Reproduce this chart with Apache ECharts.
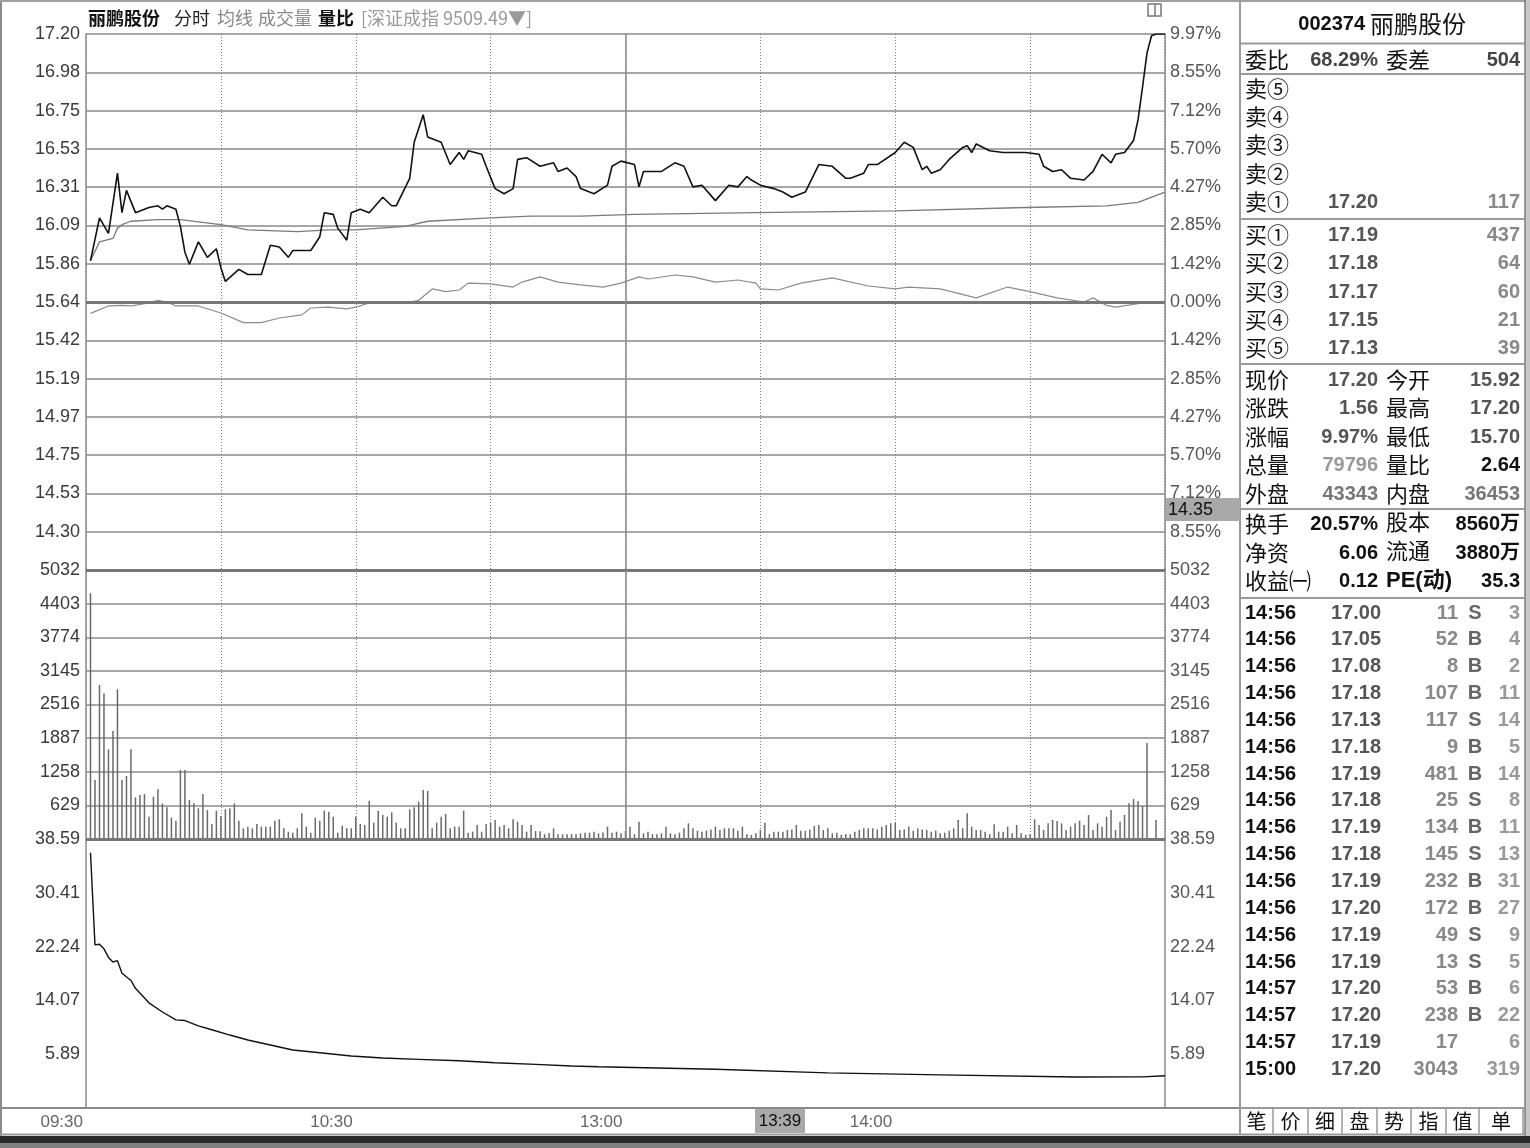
<!DOCTYPE html>
<html><head><meta charset="utf-8">
<script src="https://cdn.jsdelivr.net/npm/echarts@6/dist/echarts.min.js"></script>
<style>html,body{margin:0;padding:0;background:#fff}#c{width:1530px;height:1148px}</style>
</head><body><div id="c"></div>
<script>
// ---------------- DATA ----------------
const prevClose = 15.64;
const priceTickLabels = ['', '14.30', '14.53', '14.75', '14.97', '15.19', '15.42', '15.64', '15.86', '16.09', '16.31', '16.53', '16.75', '16.98', '17.20'];
const pctTickLabels = ['', '8.55%', '7.12%', '5.70%', '4.27%', '2.85%', '1.42%', '0.00%', '1.42%', '2.85%', '4.27%', '5.70%', '7.12%', '8.55%', '9.97%'];
const volTickLabels = ['', '629', '1258', '1887', '2516', '3145', '3774', '4403', '5032'];
const ratioTickLabels = ['', '5.89', '14.07', '22.24', '30.41', '38.59'];
const timeTickLabels = ['09:30', '10:30', '13:00', '14:00', ''];

// [minute from 09:30, price]
const pricePoints = [[1,15.88],[3,16.13],[5,16.04],[7,16.39],[8,16.16],[9,16.29],[11,16.16],[14,16.19],[16,16.20],[17,16.18],[18,16.20],[20,16.18],[21,16.08],[22,15.93],[23,15.86],[25,15.99],[27,15.90],[29,15.95],[30,15.84],[31,15.76],[34,15.83],[36,15.80],[39,15.80],[41,15.97],[43,15.96],[45,15.90],[46,15.94],[50,15.94],[52,16.02],[53,16.16],[55,16.15],[56,16.07],[58,16.00],[59,16.16],[61,16.18],[63,16.16],[66,16.25],[68,16.20],[69,16.20],[72,16.36],[73,16.57],[75,16.73],[76,16.60],[77,16.59],[79,16.57],[81,16.44],[83,16.51],[84,16.47],[85,16.52],[88,16.50],[89,16.43],[91,16.30],[93,16.27],[95,16.30],[96,16.47],[98,16.48],[101,16.43],[104,16.45],[105,16.40],[107,16.42],[109,16.37],[110,16.30],[113,16.27],[116,16.32],[117,16.43],[119,16.46],[122,16.44],[123,16.31],[124,16.40],[128,16.40],[131,16.45],[133,16.43],[135,16.31],[137,16.32],[140,16.23],[143,16.32],[145,16.31],[147,16.37],[148,16.35],[150,16.32],[153,16.30],[155,16.28],[157,16.25],[160,16.28],[163,16.44],[166,16.43],[169,16.36],[170,16.36],[173,16.39],[174,16.44],[176,16.44],[180,16.51],[182,16.57],[184,16.54],[186,16.41],[187,16.43],[188,16.39],[190,16.41],[192,16.47],[195,16.54],[196,16.55],[197,16.51],[198,16.56],[201,16.52],[204,16.51],[209,16.51],[212,16.50],[213,16.43],[215,16.40],[217,16.41],[219,16.36],[222,16.35],[224,16.40],[226,16.50],[228,16.45],[229,16.50],[231,16.51],[233,16.58],[234,16.70],[235,16.89],[236,17.09],[237,17.19],[238,17.20],[240,17.20]];

const avgPoints = [[1,15.88],[3,15.99],[6,16.01],[7,16.07],[8,16.09],[10,16.11],[16,16.12],[21,16.12],[30,16.09],[36,16.06],[47,16.05],[54,16.06],[60,16.06],[71,16.08],[76,16.11],[90,16.13],[99,16.14],[110,16.14],[122,16.15],[149,16.16],[180,16.17],[209,16.19],[227,16.20],[234,16.22],[240,16.28]];

// 深证成指 overlay, expressed on the price scale
const indexPoints = [[1,15.574],[5,15.617],[8,15.62],[10,15.617],[14,15.634],[16,15.65],[18,15.64],[20,15.617],[25,15.617],[30,15.576],[35,15.52],[39,15.52],[43,15.547],[48,15.565],[50,15.605],[54,15.61],[58,15.60],[60,15.61],[63,15.634],[67,15.634],[71,15.634],[74,15.65],[77,15.716],[80,15.70],[83,15.71],[85,15.75],[90,15.745],[95,15.727],[97,15.756],[101,15.786],[105,15.756],[110,15.74],[115,15.727],[119,15.75],[123,15.786],[125,15.774],[131,15.797],[135,15.786],[140,15.756],[145,15.768],[149,15.75],[150,15.716],[154,15.71],[159,15.75],[166,15.78],[174,15.733],[180,15.716],[183,15.727],[190,15.716],[198,15.664],[205,15.727],[210,15.70],[216,15.664],[222,15.64],[224,15.664],[227,15.62],[229,15.61],[235,15.634],[240,15.634]];

// volume per minute, index = minutes from 09:30
const volume = [0,
4597,1104,2881,2726,1678,2021,2800,1104,1179,1678,
780,823,842,418,792,929,667,592,399,343,
1291,1291,730,667,574,842,543,281,530,430,
555,574,667,343,200,231,200,281,231,231,
231,343,368,200,137,118,200,480,231,118,
399,343,530,511,418,118,249,200,200,418,
281,262,717,305,530,449,418,499,305,200,
200,555,592,698,917,898,200,305,418,468,
200,231,231,530,118,137,262,137,280,305,
355,231,262,200,368,324,262,137,262,150,
145,90,112,200,90,90,90,90,90,106,
118,118,137,106,120,231,118,137,106,150,
231,90,324,106,137,90,90,106,231,106,
90,118,200,293,200,156,137,156,180,231,
168,200,200,200,156,231,90,75,106,168,
305,90,137,137,137,168,180,262,156,156,
180,243,262,168,200,106,118,75,90,90,
137,168,200,200,200,180,231,262,293,305,
168,180,231,156,200,180,168,137,156,106,
118,156,200,355,200,480,231,168,168,137,
90,275,137,137,231,106,262,106,75,90,
368,262,168,293,355,337,293,168,231,293,
343,262,449,168,293,231,418,543,168,324,
449,667,748,711,617,1796,0,355,0,0];

// 量比 line
const ratioPoints = [[1,36.5],[2,22.5],[3,22.6],[4,21.9],[5,20.6],[6,19.9],[7,20.1],[8,18.2],[10,17.1],[11,15.9],[14,13.7],[17,12.3],[20,11.1],[22,11.0],[25,10.2],[28,9.6],[32,8.8],[36,8.05],[40,7.44],[46,6.53],[52,6.12],[59,5.62],[66,5.31],[74,5.11],[83,4.90],[91,4.59],[100,4.35],[108,4.10],[114,3.99],[140,3.6],[165,3.05],[190,2.75],[220,2.43],[235,2.45],[240,2.62]];

const headerItems = ['丽鹏股份', '分时', '均线', '成交量', '量比', '[深证成指 9509.49▼]'];
const cursorTime = '13:39';
const cursorPrice = '14.35';

const stockCode = '002374', stockName = '丽鹏股份';
const orderStat = ['委比', '68.29%', '委差', '504'];
const sellLevels = ['卖⑤', '卖④', '卖③', '卖②', '卖①'];
const sellPrices = ['', '', '', '', '17.20'];
const sellVols = ['', '', '', '', '117'];
const buyLevels = ['买①', '买②', '买③', '买④', '买⑤'];
const buyPrices = ['17.19', '17.18', '17.17', '17.15', '17.13'];
const buyVols = ['437', '64', '60', '21', '39'];
const quoteRows = [['现价','17.20','今开','15.92'],['涨跌','1.56','最高','17.20'],['涨幅','9.97%','最低','15.70'],['总量','79796','量比','2.64'],['外盘','43343','内盘','36453']];
const infoRows = [['换手','20.57%','股本','8560万'],['净资','6.06','流通','3880万'],['收益㈠','0.12','PE(动)','35.3']];
const tickTimes = ['14:56','14:56','14:56','14:56','14:56','14:56','14:56','14:56','14:56','14:56','14:56','14:56','14:56','14:56','14:57','14:57','14:57','15:00'];
const tickPrices = ['17.00','17.05','17.08','17.18','17.13','17.18','17.19','17.18','17.19','17.18','17.19','17.20','17.19','17.19','17.20','17.20','17.19','17.20'];
const tickVols = ['11','52','8','107','117','9','481','25','134','145','232','172','49','13','53','238','17','3043'];
const tickSides = ['S','B','B','B','S','B','B','S','B','S','B','B','S','S','B','B','',''];
const tickCounts = ['3','4','2','11','14','5','14','8','11','13','31','27','9','5','6','22','6','319'];
const tabs = ['笔','价','细','盘','势','指','值','单'];

// ---------------- CHART ----------------
const PMIN = prevClose - 1.56, PMAX = prevClose + 1.56, PSTEP = (PMAX - PMIN) / 14;
const VMAX = 5032, VSTEP = 629;
const RMAX = 38.59, RSTEP = 8.175, RMIN = RMAX - 5 * RSTEP;
const NUM = 'Liberation Sans, Arial, sans-serif';
const CJK = 'Noto Sans CJK SC, sans-serif';

function labFn(arr, min, step) {
  return function (v) { const i = Math.round((v - min) / step); return arr[i] !== undefined ? arr[i] : ''; };
}
function yax(grid, pos, min, max, step, labels, color, split) {
  return {
    type: 'value', gridIndex: grid, position: pos, min: min, max: max, interval: step,
    axisLine: { show: true, onZero: false, lineStyle: { color: '#8a8a8a', width: 1.5 } },
    axisTick: { show: false },
    axisLabel: { show: true, formatter: labFn(labels, min, step), color: color, fontSize: 18, fontFamily: NUM,
      margin: pos === 'left' ? 6 : 5, showMinLabel: true, showMaxLabel: true },
    splitLine: { show: !!split, lineStyle: { color: '#8a8a8a', width: 1.6 } }
  };
}
function xax(grid) {
  return {
    type: 'value', gridIndex: grid, min: 0, max: 240, interval: 30,
    axisLine: { show: false }, axisTick: { show: false }, axisLabel: { show: false },
    splitLine: { show: true, lineStyle: { color: '#7a7a7a', width: 1, type: [1, 2] } }
  };
}

const G = [];
function txt(x, y, text, o) {
  o = o || {};
  const al = o.align || 'left';
  G.push({ type: 'text', x: x, y: y, z: o.z || 100, silent: true,
    style: { text: text, font: (o.weight || 'normal') + ' ' + (o.size || 20) + 'px ' + (o.family || NUM),
      fill: o.color || '#111', textAlign: al, textVerticalAlign: 'middle', align: al, verticalAlign: 'middle' } });
}
function hl(x1, x2, y, c, w) { G.push({ type: 'line', z: 90, silent: true, shape: { x1: x1, y1: y, x2: x2, y2: y }, style: { stroke: c || '#9a9a9a', lineWidth: w || 2 } }); }
function vl(x, y1, y2, c, w) { G.push({ type: 'line', z: 90, silent: true, shape: { x1: x, y1: y1, x2: x, y2: y2 }, style: { stroke: c || '#9a9a9a', lineWidth: w || 2 } }); }
function rc(x, y, w, h, fill, stroke, z) { G.push({ type: 'rect', z: z || 95, silent: true, shape: { x: x, y: y, width: w, height: h }, style: { fill: fill || 'none', stroke: stroke || 'none', lineWidth: 1.5 } }); }

// frame
vl(1, 0, 1136, '#8a8a8a', 2);
hl(0, 1526, 1, '#a0a0a0', 2);
rc(1525, 0, 5, 1148, '#c8c8c8', null, 80);
vl(1525, 0, 1136, '#7a7a7a', 1.5);
rc(0, 1136, 1530, 7, '#2b2b2b', null, 80);
rc(0, 1143, 1530, 5, '#808080', null, 80);
hl(0, 1240, 1108, '#8a8a8a', 2);
hl(0, 1525, 1134.5, '#9a9a9a', 2);
vl(1240, 0, 1135, '#9a9a9a', 2);
// icon
rc(1148, 4, 13, 12, 'none', '#777');
vl(1155, 4, 16, '#777', 1.5);

// header
const hx = [88, 174, 217, 258, 318, 361];
const hc = ['#111', '#222', '#888', '#888', '#111', '#999'];
const hw = ['bold', 'normal', 'normal', 'normal', 'bold', 'normal'];
headerItems.forEach(function (s, i) { txt(hx[i], 18, s, { size: 18, family: CJK, color: hc[i], weight: hw[i] }); });

// cursor boxes
rc(755, 1109, 50, 24, '#a9a9a9', null, 110);
txt(780, 1121, cursorTime, { size: 17, color: '#111', align: 'center', z: 111 });
rc(1166, 498, 74, 23, '#a9a9a9', null, 110);
txt(1168, 510, cursorPrice, { size: 18, color: '#111', z: 111 });

// right panel
txt(1365, 24, stockCode, { size: 20, weight: 'bold' , align: 'right'});
txt(1370, 24, stockName, { size: 24, family: CJK });
hl(1240, 1524, 43.5);
txt(1245, 60, orderStat[0], { size: 22, family: CJK });
txt(1378, 60, orderStat[1], { weight: 'bold', color: '#444', align: 'right' });
txt(1386, 60, orderStat[2], { size: 22, family: CJK });
txt(1520, 60, orderStat[3], { weight: 'bold', color: '#444', align: 'right' });
hl(1240, 1524, 74);
const sellY = [89, 117, 145, 174, 202];
sellLevels.forEach(function (s, i) {
  txt(1245, sellY[i], s, { size: 22, family: CJK });
  txt(1378, sellY[i], sellPrices[i], { weight: 'bold', color: '#555', align: 'right' });
  txt(1520, sellY[i], sellVols[i], { weight: 'bold', color: '#888', align: 'right' });
});
hl(1240, 1524, 219);
const buyY = [235, 263, 292, 320, 348];
buyLevels.forEach(function (s, i) {
  txt(1245, buyY[i], s, { size: 22, family: CJK });
  txt(1378, buyY[i], buyPrices[i], { weight: 'bold', color: '#555', align: 'right' });
  txt(1520, buyY[i], buyVols[i], { weight: 'bold', color: '#888', align: 'right' });
});
hl(1240, 1524, 364);
const qY = [380, 408, 437, 465, 494];
const qC = [['#555', '#555'], ['#555', '#555'], ['#555', '#555'], ['#999', '#111'], ['#777', '#777']];
quoteRows.forEach(function (r, i) {
  txt(1245, qY[i], r[0], { size: 22, family: CJK });
  txt(1378, qY[i], r[1], { weight: 'bold', color: qC[i][0], align: 'right' });
  txt(1386, qY[i], r[2], { size: 22, family: CJK });
  txt(1520, qY[i], r[3], { weight: 'bold', color: qC[i][1], align: 'right' });
});
hl(1240, 1524, 509);
const iY = [524, 553, 581];
infoRows.forEach(function (r, i) {
  txt(1245, iY[i], r[0], { size: 22, family: CJK });
  txt(1378, iY[i], r[1], { weight: 'bold', color: '#111', align: 'right', family: NUM + ', ' + CJK });
  txt(1386, iY[i], r[2], { size: 22, family: NUM + ', ' + CJK, weight: i === 2 ? 'bold' : 'normal' });
  txt(1520, iY[i], r[3], { weight: 'bold', color: '#111', align: 'right', family: NUM + ', ' + CJK });
});
hl(1240, 1524, 598);
tickTimes.forEach(function (t, i) {
  const y = 613 + 26.85 * i;
  txt(1245, y, t, { weight: 'bold', color: '#111' });
  txt(1381, y, tickPrices[i], { weight: 'bold', color: '#555', align: 'right' });
  txt(1458, y, tickVols[i], { weight: 'bold', color: '#888', align: 'right' });
  txt(1475, y, tickSides[i], { weight: 'bold', color: '#666', align: 'center' });
  txt(1520, y, tickCounts[i], { weight: 'bold', color: '#999', align: 'right' });
});
hl(1240, 1524, 1108);
const tabSep = [1240, 1273, 1308, 1342, 1377, 1411, 1446, 1479, 1523];
tabSep.forEach(function (x) { vl(x, 1108, 1134, '#9a9a9a', 1.5); });
tabs.forEach(function (s, i) { txt((tabSep[i] + tabSep[i + 1]) / 2, 1121, s, { size: 20, family: CJK, align: 'center' }); });

const thick = { color: '#777', width: 3, type: 'solid' };
const solidV = { color: '#8a8a8a', width: 1.5, type: 'solid' };

const option = {
  animation: false,
  backgroundColor: '#fff',
  grid: [
    { left: 86, top: 34, width: 1079, height: 536, containLabel: false, outerBoundsMode: 'none' },
    { left: 86, top: 570, width: 1079, height: 269, containLabel: false, outerBoundsMode: 'none' },
    { left: 86, top: 839, width: 1079, height: 269, containLabel: false, outerBoundsMode: 'none' }
  ],
  xAxis: [
    xax(0), xax(1),
    { type: 'value', gridIndex: 2, min: 0, max: 240, interval: 60,
      axisLine: { show: true, onZero: false, lineStyle: { color: '#8a8a8a', width: 1.5 } },
      axisTick: { show: false }, splitLine: { show: false },
      axisLabel: { show: true, formatter: labFn(timeTickLabels, 0, 60), align: 'right', color: '#666',
        fontSize: 17, fontFamily: NUM, margin: 6, padding: [0, 3, 0, 0], showMinLabel: true, showMaxLabel: true } }
  ],
  yAxis: [
    yax(0, 'left', PMIN, PMAX, PSTEP, priceTickLabels, '#3a3a3a', true),
    yax(0, 'right', PMIN, PMAX, PSTEP, pctTickLabels, '#555', false),
    yax(1, 'left', 0, VMAX, VSTEP, volTickLabels, '#3a3a3a', true),
    yax(1, 'right', 0, VMAX, VSTEP, volTickLabels, '#555', false),
    yax(2, 'left', RMIN, RMAX, RSTEP, ratioTickLabels, '#3a3a3a', false),
    yax(2, 'right', RMIN, RMAX, RSTEP, ratioTickLabels, '#555', false)
  ],
  series: [
    { name: 'index', type: 'line', xAxisIndex: 0, yAxisIndex: 0, data: indexPoints, showSymbol: false, z: 3,
      lineStyle: { color: '#8c8c8c', width: 1.2 }, silent: true },
    { name: 'avg', type: 'line', xAxisIndex: 0, yAxisIndex: 0, data: avgPoints, showSymbol: false, z: 4,
      lineStyle: { color: '#7a7a7a', width: 1.3 }, silent: true },
    { name: 'price', type: 'line', xAxisIndex: 0, yAxisIndex: 0, data: pricePoints, showSymbol: false, z: 5,
      lineStyle: { color: '#111', width: 1.6 }, silent: true,
      markLine: { silent: true, symbol: 'none', label: { show: false }, animation: false,
        data: [{ yAxis: prevClose, lineStyle: thick }, { yAxis: PMIN, lineStyle: thick }, { xAxis: 120, lineStyle: solidV }] } },
    { name: 'vol', type: 'bar', xAxisIndex: 1, yAxisIndex: 2, data: volume.map(function (v, i) { return [i, v]; }),
      barWidth: 1.5, itemStyle: { color: '#6a6a6a' }, silent: true, z: 3,
      markLine: { silent: true, symbol: 'none', label: { show: false }, animation: false,
        data: [{ yAxis: 0, lineStyle: thick }, { xAxis: 120, lineStyle: solidV }] } },
    { name: 'ratio', type: 'line', xAxisIndex: 2, yAxisIndex: 4, data: ratioPoints, showSymbol: false, z: 5,
      lineStyle: { color: '#111', width: 1.4 }, silent: true }
  ],
  graphic: G
};
const chart = echarts.init(document.getElementById('c'));
chart.setOption(option);
</script>
</body></html>
